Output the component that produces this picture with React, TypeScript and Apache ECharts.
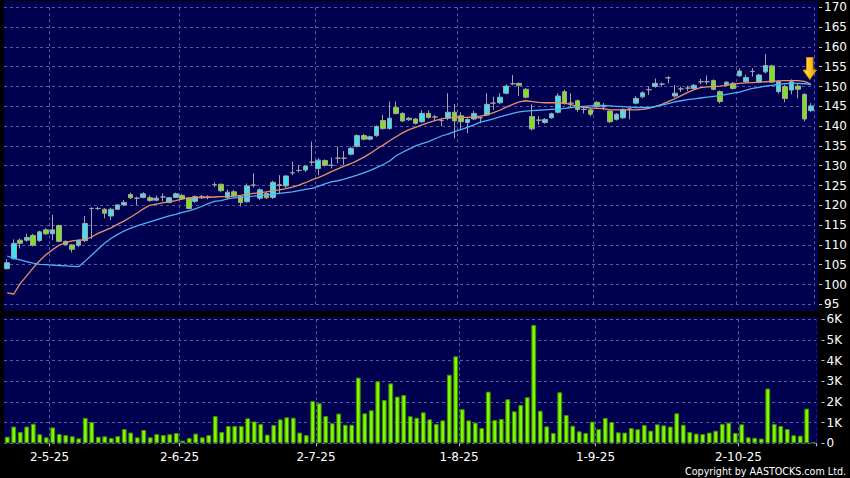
import React, { useEffect, useRef } from "react";
import * as echarts from "echarts";

// Trading days (d-m-yy)
const dates = [
  "22-4-25","23-4-25","24-4-25","25-4-25","28-4-25","29-4-25","30-4-25",
  "2-5-25","6-5-25","7-5-25","8-5-25","9-5-25","12-5-25","13-5-25","14-5-25","15-5-25","16-5-25","19-5-25","20-5-25","21-5-25","22-5-25","23-5-25","26-5-25","27-5-25","28-5-25","29-5-25","30-5-25",
  "2-6-25","3-6-25","4-6-25","5-6-25","6-6-25","9-6-25","10-6-25","11-6-25","12-6-25","13-6-25","16-6-25","17-6-25","18-6-25","19-6-25","20-6-25","23-6-25","24-6-25","25-6-25","26-6-25","27-6-25","30-6-25",
  "2-7-25","3-7-25","4-7-25","7-7-25","8-7-25","9-7-25","10-7-25","11-7-25","14-7-25","15-7-25","16-7-25","17-7-25","18-7-25","21-7-25","22-7-25","23-7-25","24-7-25","25-7-25","28-7-25","29-7-25","30-7-25","31-7-25",
  "1-8-25","4-8-25","5-8-25","6-8-25","7-8-25","8-8-25","11-8-25","12-8-25","13-8-25","14-8-25","15-8-25","18-8-25","19-8-25","20-8-25","21-8-25","22-8-25","25-8-25","26-8-25","27-8-25","28-8-25","29-8-25",
  "1-9-25","2-9-25","3-9-25","4-9-25","5-9-25","8-9-25","9-9-25","10-9-25","11-9-25","12-9-25","15-9-25","16-9-25","17-9-25","18-9-25","19-9-25","22-9-25","23-9-25","24-9-25","25-9-25","26-9-25","29-9-25","30-9-25",
  "2-10-25","3-10-25","6-10-25","8-10-25","9-10-25","10-10-25","13-10-25","14-10-25","15-10-25","16-10-25","17-10-25","20-10-25",
];

const opens = [
  104.0, 106.5, 111.2, 111.2, 112.4, 111.1, 113.8, 112.8, 114.9, 110.9,
  110.0, 109.9, 111.1, 119.2, 119.2, 119.0, 117.3, 119.0, 120.1, 122.7,
  121.8, 122.0, 121.9, 121.3, 122.1, 120.7, 122.0, 122.5, 121.8, 121.0,
  122.2, 122.1, 125.2, 125.3, 122.0, 123.4, 122.2, 120.9, 125.1, 121.8,
  123.0, 122.0, 125.2, 124.9, 128.2, 128.8, 128.9, 130.9, 129.3, 131.3,
  130.1, 131.9, 131.9, 132.9, 134.9, 137.6, 136.7, 137.6, 141.4, 139.4,
  144.7, 143.2, 142.0, 141.8, 141.1, 143.2, 142.3, 141.4, 142.0, 143.5,
  142.6, 140.9, 141.8, 142.1, 142.8, 145.8, 145.9, 148.3, 150.7, 150.8,
  149.3, 142.4, 141.5, 140.9, 142.1, 143.5, 148.7, 145.8, 146.4, 144.2,
  144.1, 146.0, 144.9, 143.8, 141.7, 142.1, 144.3, 145.8, 147.4, 149.2,
  150.0, 150.6, 152.2, 147.6, 149.4, 149.6, 149.5, 151.2, 151.2, 151.5,
  148.7, 150.5, 150.8, 152.7, 151.2, 153.8, 151.1, 153.7, 155.2, 148.7,
  150.0, 149.1, 150.1, 148.0, 143.9,
];

const closes = [
  105.5, 110.4, 110.4, 111.9, 109.9, 113.3, 112.8, 113.8, 110.9, 110.1,
  108.9, 111.1, 115.4, 119.2, 119.2, 118.0, 119.0, 120.1, 120.7, 121.9,
  121.8, 122.9, 121.2, 121.8, 122.1, 121.9, 122.9, 121.6, 119.2, 122.2,
  122.2, 122.1, 125.2, 123.7, 123.3, 122.4, 120.7, 124.9, 125.1, 123.9,
  121.9, 125.8, 125.0, 127.4, 128.2, 128.8, 129.9, 130.9, 131.4, 130.1,
  130.1, 131.9, 131.9, 134.4, 137.6, 136.7, 137.3, 139.9, 139.4, 142.0,
  143.2, 141.3, 141.6, 140.7, 143.2, 142.2, 142.3, 141.4, 143.5, 141.3,
  141.1, 141.7, 143.2, 142.1, 145.5, 145.8, 147.3, 150.1, 150.7, 150.3,
  147.3, 139.3, 141.5, 141.7, 143.1, 147.6, 145.7, 145.8, 144.2, 144.2,
  143.0, 144.9, 144.9, 141.1, 143.0, 144.2, 144.3, 147.0, 148.4, 149.2,
  150.8, 150.6, 152.2, 148.3, 149.4, 149.6, 150.3, 151.2, 151.2, 149.3,
  146.2, 151.1, 149.5, 153.9, 152.3, 153.8, 152.9, 155.3, 151.1, 151.2,
  147.0, 151.2, 149.3, 141.8, 145.1,
];

const lows = [
  103.8, 106.3, 109.1, 110.8, 109.6, 110.8, 112.5, 111.2, 110.7, 109.9,
  108.1, 109.5, 110.7, 111.5, 118.8, 116.7, 116.3, 118.8, 119.8, 121.6,
  120.1, 121.8, 120.9, 121.0, 121.0, 120.5, 121.8, 121.3, 119.0, 120.6,
  121.6, 121.5, 124.6, 123.3, 121.5, 122.0, 119.7, 120.7, 124.5, 121.3,
  121.6, 121.6, 122.8, 124.4, 127.6, 128.3, 128.4, 130.2, 127.6, 129.8,
  129.3, 130.6, 130.2, 132.6, 134.6, 136.4, 136.4, 137.3, 139.1, 139.1,
  142.9, 141.0, 141.3, 140.4, 140.8, 141.9, 141.3, 140.0, 141.5, 136.9,
  139.0, 138.2, 141.5, 140.7, 142.5, 144.1, 145.5, 148.0, 150.3, 147.6,
  147.0, 138.9, 140.3, 140.6, 141.8, 143.2, 145.4, 144.9, 143.6, 143.2,
  142.5, 144.6, 144.0, 140.8, 141.4, 141.8, 141.7, 145.5, 147.0, 147.9,
  149.7, 150.0, 150.8, 147.2, 148.6, 148.9, 149.2, 150.6, 150.5, 149.0,
  145.7, 150.2, 149.2, 152.4, 150.9, 152.5, 150.8, 153.3, 150.9, 148.2,
  146.0, 148.0, 147.0, 141.2, 143.6,
];

const highs = [
  106.4, 111.4, 111.6, 112.8, 112.8, 113.6, 114.2, 117.6, 115.1, 111.1,
  110.2, 111.4, 117.3, 119.5, 119.6, 119.3, 119.4, 120.3, 121.3, 123.2,
  122.2, 123.3, 122.5, 122.5, 123.0, 122.1, 123.2, 122.9, 122.1, 122.5,
  122.6, 122.5, 125.8, 125.5, 124.0, 123.9, 122.6, 125.5, 128.1, 124.3,
  123.4, 126.2, 127.6, 127.6, 131.0, 130.2, 130.1, 136.1, 131.9, 131.6,
  132.1, 134.8, 133.7, 134.8, 137.9, 138.0, 137.6, 140.2, 142.8, 146.2,
  146.2, 143.5, 142.3, 142.0, 144.0, 144.0, 142.8, 142.0, 148.3, 145.6,
  143.5, 142.0, 143.8, 142.5, 148.3, 147.4, 148.3, 150.5, 152.9, 151.0,
  149.6, 145.5, 142.5, 142.0, 143.4, 148.3, 149.2, 148.3, 146.7, 145.0,
  144.6, 146.3, 145.8, 144.0, 143.3, 144.5, 144.6, 147.6, 148.8, 150.0,
  152.0, 151.0, 152.6, 150.4, 150.0, 150.2, 150.6, 151.9, 152.8, 151.8,
  149.0, 151.4, 151.1, 154.6, 153.0, 154.6, 153.2, 158.2, 155.5, 151.6,
  150.4, 151.8, 150.6, 148.3, 145.8,
];

// Moving averages
const maShort = [
  97.9, 97.6, 100.2, 102.2, 104.2, 106.0, 107.6, 108.8, 109.9, 110.6,
  111.0, 111.2, 111.3, 112.0, 112.9, 113.6, 114.3, 115.2, 116.0, 117.0,
  118.0, 119.1, 120.0, 120.3, 120.6, 120.9, 121.2, 121.6, 121.9, 122.0,
  121.9, 122.0, 122.1, 122.2, 122.2, 122.3, 122.5, 122.8, 123.0, 123.2,
  123.4, 123.7, 123.9, 124.2, 124.6, 125.1, 125.7, 126.4, 127.0, 127.7,
  128.5, 129.2, 129.9, 130.5, 131.3, 132.1, 133.1, 134.2, 135.2, 136.3,
  137.3, 138.3, 139.1, 139.7, 140.3, 140.9, 141.4, 141.8, 142.1, 142.2,
  142.2, 142.2, 142.3, 142.5, 142.8, 143.4, 144.0, 144.8, 145.5, 146.1,
  146.4, 146.2, 146.0, 145.9, 145.9, 145.9, 145.8, 145.4, 145.0, 144.7,
  144.6, 144.5, 144.4, 144.1, 144.1, 144.1, 144.1, 144.1, 144.2, 144.5,
  145.0, 145.5, 146.2, 146.9, 147.7, 148.5, 149.2, 149.7, 149.9, 150.0,
  150.1, 150.3, 150.6, 150.8, 150.9, 151.0, 151.1, 151.2, 151.3, 151.4,
  151.5, 151.5, 151.5, 151.3, 150.6,
];

const maLong = [
  107.2, 106.6, 106.2, 105.8, 105.4, 105.1, 105.0, 104.9, 104.8, 104.7,
  104.6, 104.5, 105.9, 107.4, 108.9, 110.4, 111.6, 112.6, 113.5, 114.2,
  114.8, 115.3, 115.8, 116.3, 116.8, 117.3, 117.7, 118.2, 118.6, 119.1,
  119.7, 120.4, 121.0, 121.2, 121.6, 121.9, 122.0, 122.2, 122.3, 122.5,
  122.6, 122.8, 123.0, 123.2, 123.4, 123.7, 124.0, 124.3, 124.8, 125.4,
  125.9, 126.2, 126.6, 127.1, 127.6, 128.2, 128.8, 129.5, 130.3, 131.2,
  132.5, 133.4, 134.2, 135.0, 135.6, 136.1, 136.8, 137.5, 138.0, 138.6,
  139.1, 139.7, 140.3, 141.0, 141.4, 141.8, 142.3, 142.8, 143.2, 143.6,
  143.8, 143.9, 144.0, 144.1, 144.2, 144.3, 144.5, 144.7, 144.9, 145.0,
  145.1, 145.2, 145.2, 145.1, 145.0, 144.9, 144.8, 144.7, 144.7, 144.7,
  144.9, 145.3, 145.7, 146.1, 146.4, 146.7, 146.9, 147.1, 147.3, 147.5,
  147.7, 148.0, 148.3, 148.6, 149.1, 149.5, 149.8, 150.1, 150.3, 150.5,
  150.7, 150.8, 150.8, 150.7, 150.5,
];

// Volume in thousands
const volumes = [
  0.32, 0.81, 0.55, 0.81, 0.95, 0.44, 0.29, 0.77, 0.45, 0.40,
  0.34, 0.24, 1.23, 1.03, 0.32, 0.34, 0.26, 0.35, 0.69, 0.52,
  0.29, 0.65, 0.29, 0.45, 0.40, 0.44, 0.50, 0.13, 0.26, 0.47,
  0.29, 0.40, 1.32, 0.55, 0.84, 0.84, 0.84, 1.21, 1.06, 0.94,
  0.42, 0.89, 1.16, 1.26, 1.24, 0.52, 0.40, 2.05, 1.94, 1.32,
  0.97, 1.44, 0.90, 0.90, 3.18, 1.45, 1.60, 3.00, 2.10, 2.90,
  2.26, 2.34, 1.31, 1.24, 1.50, 1.16, 0.94, 1.11, 3.32, 4.21,
  1.65, 1.11, 1.00, 0.74, 2.50, 1.13, 1.18, 2.13, 1.55, 1.85,
  2.23, 5.73, 1.58, 0.82, 0.50, 2.47, 1.37, 0.85, 0.58, 0.50,
  1.05, 0.69, 1.23, 1.03, 0.53, 0.52, 0.74, 0.68, 0.89, 0.61,
  0.92, 0.87, 0.81, 1.45, 0.90, 0.55, 0.47, 0.45, 0.52, 0.61,
  0.94, 1.00, 0.50, 0.92, 0.29, 0.27, 0.23, 2.65, 0.94, 0.84,
  0.69, 0.39, 0.37, 1.68, 0.06,
];

const priceTicks = { min: 95, max: 170, step: 5 };
const volumeTicks = { min: 0, max: 6, step: 1 };
const copyrightText = "Copyright by AASTOCKS.com Ltd.";

const monthOf = (d: string) => d.split("-")[1];
const isMonthStart = (i: number) => i > 0 && monthOf(dates[i]) !== monthOf(dates[i - 1]);

const GRID_COLOR = "#5a5a9c";
const NAVY = "#000050";
const FONT = "DejaVu Sans";

function buildOption() {
  const candles = dates.map((_, i) => [opens[i], closes[i], lows[i], highs[i]]);
  const splitLine = {
    show: true,
    interval: (i: number) => isMonthStart(i),
    lineStyle: { color: GRID_COLOR, type: [3, 3], width: 1 },
  };
  const ySplit = { show: true, lineStyle: { color: GRID_COLOR, type: [3, 3], width: 1 } };
  const yLabel = { color: "#ffffff", fontFamily: FONT, fontSize: 12, margin: 5 };
  const yTick = { show: true, length: 3, lineStyle: { color: "#c8c8c8" } };
  return {
    animation: false,
    backgroundColor: "#000000",
    graphic: [
      { type: "rect", z: -100, shape: { x: 4, y: 1, width: 814, height: 310 }, style: { fill: NAVY } },
      { type: "rect", z: -100, shape: { x: 4, y: 317, width: 814, height: 127 }, style: { fill: NAVY } },
      // hide the closing boundary line that the category axis adds at the right edge
      { type: "rect", z: 50, shape: { x: 816.3, y: 1, width: 1.7, height: 310 }, style: { fill: NAVY } },
      { type: "rect", z: 50, shape: { x: 816.3, y: 317, width: 1.7, height: 126 }, style: { fill: NAVY } },
      {
        type: "polygon",
        z: 100,
        shape: {
          points: [
            [806.5, 57.5], [813, 57.5], [813, 70], [816.5, 70], [809.75, 79.5], [803, 70], [806.5, 70],
          ],
        },
        style: {
          fill: {
            type: "linear", x: 0, y: 0, x2: 1, y2: 0,
            colorStops: [
              { offset: 0, color: "#ffe070" },
              { offset: 0.5, color: "#ffc820" },
              { offset: 1, color: "#e89a00" },
            ],
          },
          stroke: "#d08a00",
          lineWidth: 1,
        },
      },
      {
        type: "text",
        z: 100,
        x: 846,
        y: 471,
        scaleX: 0.87,
        style: {
          text: copyrightText,
          fill: "#ffffff",
          font: `11px "${FONT}"`,
          align: "right",
          verticalAlign: "middle",
        },
      },
    ],
    grid: [
      { left: 4, right: 33.5, top: 7.3, height: 297 },
      { left: 4, right: 33.5, top: 319.3, height: 124 },
    ],
    xAxis: [
      {
        type: "category",
        gridIndex: 0,
        data: dates,
        boundaryGap: true,
        axisLine: { show: false },
        axisTick: { show: false },
        axisLabel: { show: false },
        splitLine,
      },
      {
        type: "category",
        gridIndex: 1,
        data: dates,
        boundaryGap: true,
        offset: 3,
        axisLine: { show: false },
        axisTick: {
          show: true,
          interval: (i: number) => isMonthStart(i),
          length: 3,
          lineStyle: { color: "#c8c8c8" },
        },
        axisLabel: {
          interval: (i: number) => isMonthStart(i),
          color: "#ffffff",
          fontFamily: FONT,
          fontSize: 12,
          margin: 5,
          padding: [0, 6.5, 0, 0],
        },
        splitLine,
      },
    ],
    yAxis: [
      {
        type: "value",
        gridIndex: 0,
        position: "right",
        offset: 5,
        min: priceTicks.min,
        max: priceTicks.max,
        interval: priceTicks.step,
        axisLine: { show: false },
        axisTick: yTick,
        axisLabel: yLabel,
        splitLine: ySplit,
      },
      {
        type: "value",
        gridIndex: 1,
        position: "right",
        offset: 5,
        min: volumeTicks.min,
        max: volumeTicks.max,
        interval: volumeTicks.step,
        axisLine: { show: false },
        axisTick: yTick,
        axisLabel: { ...yLabel, formatter: (v: number) => (v === 0 ? "0" : `${v}K`) },
        splitLine: ySplit,
      },
    ],
    series: [
      {
        type: "candlestick",
        xAxisIndex: 0,
        yAxisIndex: 0,
        data: candles,
        barWidth: 5.2,
        itemStyle: {
          color: "#3fe0f0",
          color0: "#80e020",
          borderColor: "#a4a4a4",
          borderColor0: "#a4a4a4",
          borderColorDoji: "#a4a4a4",
          borderWidth: 1,
        },
        z: 2,
      },
      {
        type: "line",
        xAxisIndex: 0,
        yAxisIndex: 0,
        data: maShort,
        showSymbol: false,
        lineStyle: { color: "#e8906a", width: 1.3 },
        z: 3,
      },
      {
        type: "line",
        xAxisIndex: 0,
        yAxisIndex: 0,
        data: maLong,
        showSymbol: false,
        lineStyle: { color: "#4fb2f2", width: 1.3 },
        z: 3,
      },
      {
        type: "bar",
        xAxisIndex: 1,
        yAxisIndex: 1,
        data: volumes,
        barWidth: 4.8,
        itemStyle: { color: "#80f800", borderColor: "#3e8e00", borderWidth: 1 },
      },
    ],
  };
}

export default function App() {
  const ref = useRef<HTMLDivElement>(null);
  useEffect(() => {
    if (!ref.current) return;
    const chart = echarts.init(ref.current, null, { renderer: "svg" });
    chart.setOption(buildOption() as any);
    return () => chart.dispose();
  }, []);
  return (
    <div
      ref={ref}
      style={{ position: "fixed", left: 0, top: 0, width: 850, height: 478, background: "#000" }}
    />
  );
}
